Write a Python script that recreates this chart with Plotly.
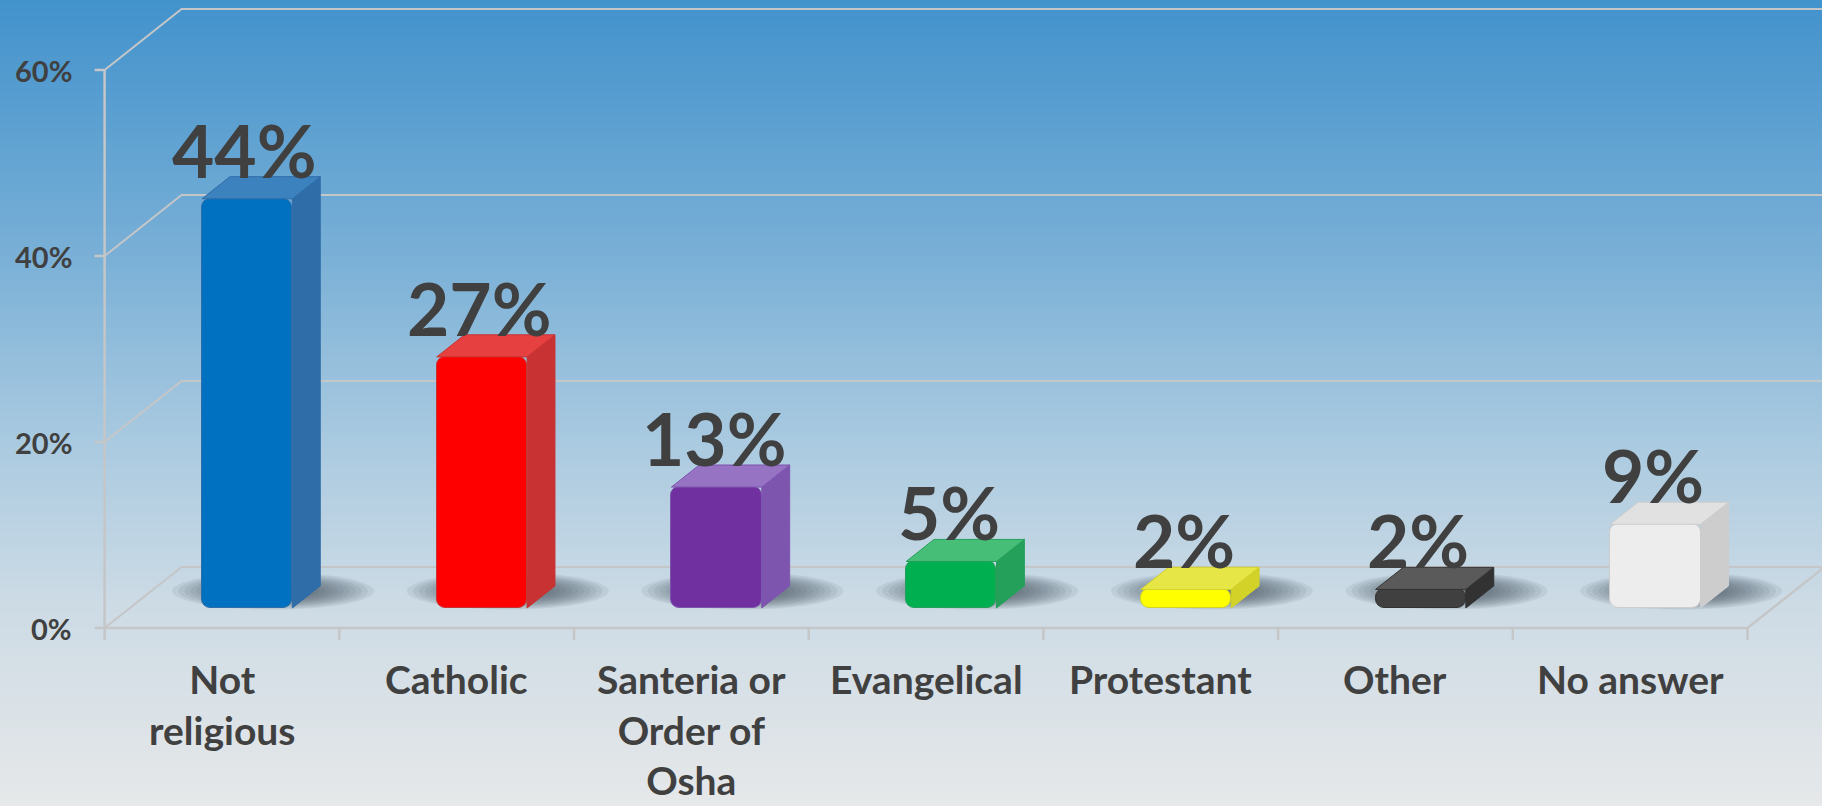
import numpy as np
import plotly.graph_objects as go

# ---- data -------------------------------------------------------------
categories = ["Not<br>religious", "Catholic", "Santeria or<br>Order of<br>Osha",
              "Evangelical", "Protestant", "Other", "No answer"]
values = [44, 27, 13, 5, 2, 2, 9]
y_ticks = [0, 20, 40, 60]
y_tick_text = ["0%", "20%", "40%", "60%"]

front_colors = ["#0070C0", "#FF0000", "#7030A0", "#00B050", "#FFFF00", "#404040", "#EDEDED"]
side_colors = ["#2F6DA8", "#C83232", "#7D55AF", "#25A05A", "#D2D228", "#323232", "#CDCDCD"]
top_colors = ["#3C82BE", "#E64040", "#9673C3", "#46BE78", "#E6E646", "#5A5A5A", "#E1E1E1"]

# ---- geometry of the oblique projection -----------------------------
W, H = 1822, 806
LEFT_PX = 104.6        # pixel x of the front-left corner of the plot box
CAT_PX = 234.7         # pixel width of one category
ZERO_PX = 628.0        # pixel y of 0 % on the front plane
PCT_PX = 9.3           # pixels per percent
DX = 77 / CAT_PX       # depth vector (x, data units)
DY = 61 / PCT_PX       # depth vector (y, data units)
T0, T1 = 0.328, 0.69   # depth range occupied by the bars
BAR_W = 0.385
n = len(values)

x_range = [-0.5 - LEFT_PX / CAT_PX, -0.5 + (W - LEFT_PX) / CAT_PX]
y_range = [-(H - ZERO_PX) / PCT_PX, ZERO_PX / PCT_PX]

TEXT = "#404040"
FONT = "Lato"
GRID = "rgb(196,198,200)"

fig = go.Figure()
shapes = []

# ---- vertical background gradient -----------------------------------
stops = [(0.00, (66, 146, 204)), (0.30, (118, 174, 214)), (0.55, (170, 202, 224)),
         (0.75, (205, 219, 229)), (1.00, (230, 232, 233))]


def grad_color(f):
    for (f0, c0), (f1, c1) in zip(stops[:-1], stops[1:]):
        if f0 <= f <= f1:
            u = (f - f0) / (f1 - f0)
            return "rgb(%d,%d,%d)" % tuple(round(a + (b - a) * u) for a, b in zip(c0, c1))
    return "rgb(%d,%d,%d)" % stops[-1][1]


n_strips = 200
for k in range(n_strips):
    f0, f1 = k / n_strips, (k + 1) / n_strips
    shapes.append(dict(type="rect", xref="paper", yref="paper", x0=0, x1=1,
                       y0=1 - f1 - 0.001, y1=1 - f0, line_width=0,
                       fillcolor=grad_color((f0 + f1) / 2), layer="below"))

# ---- walls: gridlines on the back wall with their side diagonals -----
x_left, x_right = -0.5, n - 0.5
for v in y_ticks:
    shapes.append(dict(type="path", xref="x", yref="y", layer="below",
                       path=f"M {x_left},{v} L {x_left + DX},{v + DY} L {x_right + DX + 0.2},{v + DY}",
                       line=dict(color=GRID, width=2)))

# floor front edge and right edge
shapes.append(dict(type="path", xref="x", yref="y", layer="below",
                   path=f"M {x_left},0 L {x_right},0 L {x_right + DX},{DY}",
                   line=dict(color=GRID, width=2.5)))
# front value axis
shapes.append(dict(type="line", xref="x", yref="y", layer="below",
                   x0=x_left, x1=x_left, y0=0, y1=y_ticks[-1],
                   line=dict(color=GRID, width=2.5)))
for v in y_ticks:
    shapes.append(dict(type="line", xref="x", yref="y", layer="below",
                       x0=x_left - 10 / CAT_PX, x1=x_left, y0=v, y1=v,
                       line=dict(color=GRID, width=2.5)))
for i in range(n + 1):
    xt = x_left + i
    shapes.append(dict(type="line", xref="x", yref="y", layer="below",
                       x0=xt, x1=xt, y0=0, y1=-12 / PCT_PX,
                       line=dict(color=GRID, width=2.5)))

# ---- soft shadows on the floor (stacked translucent ellipses) ---------
shift = T0 * DX
base = T0 * DY
for i in range(n):
    xc = i + shift + 0.11
    yc = 37 / PCT_PX
    for k in range(11):
        s = 1 - k * 0.06
        hw = 0.43 * s
        hh = 2.0 * s
        shapes.append(dict(type="circle", xref="x", yref="y", layer="below",
                           x0=xc - hw, x1=xc + hw, y0=yc - hh, y1=yc + hh,
                           fillcolor="rgba(55,65,78,0.085)", line_width=0))

# ---- bars: front faces ----------------------------------------------
x_pos = np.arange(n)
fig.add_trace(go.Bar(
    x=x_pos, y=values, base=base, width=BAR_W, offset=-BAR_W / 2 + shift,
    marker=dict(color=front_colors, cornerradius=9,
                line=dict(color=side_colors, width=1)),
    hoverinfo="skip", showlegend=False))

# ---- bars: side and top faces ---------------------------------------
ddx = (T1 - T0) * DX
ddy = (T1 - T0) * DY
for i, v in enumerate(values):
    xl = i - BAR_W / 2 + shift
    xr = i + BAR_W / 2 + shift
    top = base + v
    fig.add_trace(go.Scatter(
        x=[xr, xr + ddx, xr + ddx, xr, xr],
        y=[base, base + ddy, top + ddy, top, base],
        mode="lines", fill="toself", fillcolor=side_colors[i],
        line=dict(color=side_colors[i], width=1), hoverinfo="skip", showlegend=False))
    fig.add_trace(go.Scatter(
        x=[xl, xl + ddx, xr + ddx, xr, xl],
        y=[top, top + ddy, top + ddy, top, top],
        mode="lines", fill="toself", fillcolor=top_colors[i],
        line=dict(color=side_colors[i], width=1), hoverinfo="skip", showlegend=False))

# ---- text -----------------------------------------------------------
annotations = []
for i, v in enumerate(values):
    annotations.append(dict(x=i + shift - 0.01, y=base + v + ddy, xref="x", yref="y",
                            text=f"{v}%", showarrow=False, xanchor="center", yanchor="bottom",
                            yshift=-19,
                            font=dict(family=FONT, size=73, color=TEXT, weight="bold")))
for v, t in zip(y_ticks, y_tick_text):
    annotations.append(dict(x=x_left - 31 / CAT_PX, y=v, xref="x", yref="y", text=t,
                            showarrow=False, xanchor="right", yanchor="middle",
                            font=dict(family=FONT, size=29, color=TEXT, weight="bold")))
for i, c in enumerate(categories):
    annotations.append(dict(x=i, y=-26 / PCT_PX, xref="x", yref="y", text=c,
                            showarrow=False, xanchor="center", yanchor="top", align="center",
                            font=dict(family=FONT, size=39, color=TEXT, weight="bold")))

fig.update_layout(
    width=W, height=H,
    margin=dict(l=0, r=0, t=0, b=0),
    paper_bgcolor="rgb(230,232,233)", plot_bgcolor="rgba(0,0,0,0)",
    xaxis=dict(range=x_range, visible=False, fixedrange=True),
    yaxis=dict(range=y_range, visible=False, fixedrange=True),
    shapes=shapes, annotations=annotations,
    hovermode=False, showlegend=False, bargap=0,
)

fig.write_html("out.html", config={"displayModeBar": False})
